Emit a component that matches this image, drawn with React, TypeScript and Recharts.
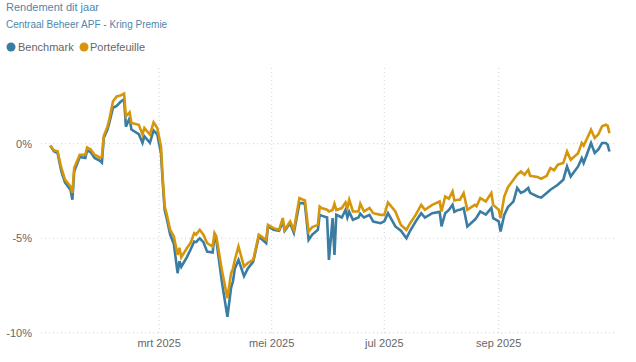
import React from 'react';
import { LineChart, Line, XAxis, YAxis, CartesianGrid } from 'recharts';

const dates = [
  '2025-01-01','2025-01-03','2025-01-05','2025-01-07','2025-01-09','2025-01-12','2025-01-13','2025-01-14','2025-01-17','2025-01-20',
  '2025-01-21','2025-01-23','2025-01-25','2025-01-28','2025-01-29','2025-01-30','2025-02-01','2025-02-02','2025-02-04','2025-02-06',
  '2025-02-08','2025-02-10','2025-02-11','2025-02-13','2025-02-14','2025-02-18','2025-02-20','2025-02-21','2025-02-24','2025-02-26',
  '2025-02-28','2025-03-02','2025-03-03','2025-03-04','2025-03-05','2025-03-07','2025-03-09','2025-03-11','2025-03-12','2025-03-13',
  '2025-03-16','2025-03-18','2025-03-20','2025-03-21','2025-03-23','2025-03-25','2025-03-27','2025-03-30','2025-03-31','2025-04-01',
  '2025-04-04','2025-04-07','2025-04-09','2025-04-10','2025-04-11','2025-04-13','2025-04-16','2025-04-18','2025-04-21','2025-04-24',
  '2025-04-28','2025-04-29','2025-05-02','2025-05-05','2025-05-07','2025-05-08','2025-05-11','2025-05-13','2025-05-16','2025-05-18',
  '2025-05-19','2025-05-21','2025-05-23','2025-05-26','2025-05-27','2025-05-28','2025-05-31','2025-06-01','2025-06-03','2025-06-04',
  '2025-06-05','2025-06-08','2025-06-10','2025-06-11','2025-06-12','2025-06-14','2025-06-17','2025-06-18','2025-06-20','2025-06-23',
  '2025-06-25','2025-06-29','2025-07-01','2025-07-03','2025-07-07','2025-07-10','2025-07-13','2025-07-15','2025-07-18','2025-07-21',
  '2025-07-23','2025-07-27','2025-07-31','2025-08-01','2025-08-03','2025-08-05','2025-08-07','2025-08-08','2025-08-10','2025-08-11',
  '2025-08-13','2025-08-15','2025-08-19','2025-08-20','2025-08-22','2025-08-25','2025-08-28','2025-08-29','2025-09-01','2025-09-02',
  '2025-09-04','2025-09-06','2025-09-09','2025-09-11','2025-09-13','2025-09-15','2025-09-17','2025-09-18','2025-09-22','2025-09-24',
  '2025-09-27','2025-09-29','2025-10-01','2025-10-03','2025-10-06','2025-10-08','2025-10-10','2025-10-14','2025-10-16','2025-10-17',
  '2025-10-19','2025-10-21','2025-10-23','2025-10-25','2025-10-27','2025-10-29','2025-10-30','2025-10-31',
];

const portefeuille = [
  -0.1, -0.35, -0.4, -1.27, -1.9, -2.26, -2.6, -1.27, -0.58, -0.58,
  -0.2, -0.3, -0.58, -0.74, -0.7, 0.4, 0.9, 1.27, 2.24, 2.5,
  2.54, 2.65, 1.45, 1.66, 1.1, 1.0, 0.48, 0.83, 0.48, 1.13,
  0.83, -0.14, -1.9, -3.3, -3.67, -4.55, -4.9, -5.87, -5.5, -6.0,
  -5.52, -5.25, -4.72, -4.8, -4.55, -4.81, -5.25, -5.43, -4.72, -4.9,
  -6.67, -8.16, -6.84, -6.6, -6.14, -5.43, -6.49, -6.3, -6.14, -4.81,
  -5.08, -4.29, -4.46, -4.55, -3.93, -4.55, -4.11, -4.55, -2.87, -2.96,
  -3.0, -4.64, -4.4, -4.29, -3.32, -3.4, -3.49, -3.58, -3.5, -3.17,
  -3.5, -3.4, -3.1, -3.4, -2.96, -3.58, -3.58, -3.17, -3.58, -3.4,
  -3.67, -3.76, -3.76, -3.1, -3.58, -4.29, -4.55, -4.2, -3.76, -3.23,
  -3.49, -3.23, -3.05, -3.58, -2.79, -2.9, -2.52, -3.0, -2.96, -2.96,
  -2.61, -3.49, -3.23, -3.3, -2.87, -3.05, -2.61, -3.23, -3.49, -3.93,
  -2.79, -2.3, -1.9, -1.64, -1.47, -1.64, -1.38, -1.7, -1.76, -1.85,
  -1.7, -1.29, -1.4, -1.11, -1.02, -0.41, -0.85, -0.5, 0.04, -0.1,
  0.3, 0.74, 0.3, 0.5, 0.92, 1.0, 0.95, 0.56,
];

const benchmark = [
  -0.1, -0.4, -0.5, -1.45, -2.05, -2.45, -2.96, -1.45, -0.7, -0.75,
  -0.35, -0.45, -0.75, -0.9, -1.0, 0.3, 0.75, 1.1, 1.9, 2.0,
  2.2, 2.35, 0.9, 1.35, 0.75, 0.5, 0.05, 0.4, 0.05, 0.7,
  0.5, -0.5, -2.1, -3.5, -3.9, -4.8, -5.3, -6.84, -6.2, -6.5,
  -6.0, -5.6, -5.17, -5.2, -5.0, -5.2, -5.7, -5.75, -4.9, -5.1,
  -7.3, -9.14, -7.6, -7.28, -6.6, -6.14, -7.0, -6.6, -6.23, -4.9,
  -5.25, -4.37, -4.55, -4.6, -4.11, -4.6, -4.2, -4.7, -3.14, -3.14,
  -3.2, -5.08, -4.8, -4.55, -3.76, -3.8, -3.9, -6.14, -3.93, -5.87,
  -3.76, -3.9, -3.49, -3.9, -3.6, -4.02, -3.9, -3.7, -3.9, -3.76,
  -4.11, -4.2, -4.1, -3.67, -4.37, -4.6, -5.0, -4.6, -4.11, -3.67,
  -3.9, -3.67, -3.6, -4.37, -3.67, -3.5, -3.23, -3.6, -3.5, -3.49,
  -3.4, -4.37, -4.02, -3.9, -3.58, -3.75, -3.4, -3.93, -4.1, -4.64,
  -3.76, -3.35, -3.05, -2.34, -2.6, -2.5, -2.34, -2.6, -2.79, -2.85,
  -2.6, -2.43, -2.3, -2.17, -1.9, -1.2, -1.73, -1.2, -0.76, -1.02,
  -0.5, 0.04, -0.49, -0.3, 0.04, 0.04, -0.05, -0.41,
];

const xTickDates = ['2025-03-01', '2025-05-01', '2025-07-01', '2025-09-01'];
const xTickLabels = ['mrt 2025', 'mei 2025', 'jul 2025', 'sep 2025'];
const xDomainDates = ['2024-12-27', '2025-11-03'];
const yTicks = [-10, -5, 0];
const yDomain = [-10, 4];

const title = 'Rendement dit jaar';
const subtitle = 'Centraal Beheer APF - Kring Premie';
const seriesNames = ['Benchmark', 'Portefeuille'];
const BLUE = '#3b7ca3';
const GOLD = '#d5960c';

const toTs = (s: string) => Date.parse(s + 'T00:00:00Z');

const data = dates.map((d, i) => ({
  t: toTs(d),
  benchmark: benchmark[i],
  portefeuille: portefeuille[i],
}));

const tickTs = xTickDates.map(toTs);
const labelFor = (v: number) => {
  const i = tickTs.indexOf(v);
  return i >= 0 ? xTickLabels[i] : '';
};

const FONT = '"Liberation Sans", Arial, sans-serif';

export default function App() {
  return (
    <div style={{ position: 'absolute', left: 0, top: 0, width: 636, height: 362, fontFamily: FONT, background: '#fff' }}>
      <LineChart
        width={636}
        height={362}
        data={data}
        margin={{ top: 68, right: 21, bottom: 0, left: 0 }}
      >
        <CartesianGrid
          stroke="#d0d0d0"
          strokeDasharray="1 3"
          horizontalValues={yTicks}
          verticalValues={tickTs}
        />
        <XAxis
          dataKey="t"
          type="number"
          scale="linear"
          domain={[toTs(xDomainDates[0]), toTs(xDomainDates[1])]}
          ticks={tickTs}
          tickFormatter={labelFor}
          axisLine={false}
          tickLine={false}
          tickSize={0}
          tickMargin={6}
          height={29}
          interval={0}
          tick={{ fontSize: 11, fill: '#666', fontFamily: FONT }}
        />
        <YAxis
          type="number"
          domain={yDomain}
          ticks={yTicks}
          tickFormatter={(v: number) => `${v}%`}
          axisLine={false}
          tickLine={false}
          tickSize={0}
          tickMargin={9}
          width={41}
          interval={0}
          tick={{ fontSize: 11, fill: '#666', fontFamily: FONT }}
        />
        <Line
          type="linear"
          dataKey="benchmark"
          stroke={BLUE}
          strokeWidth={2.6}
          dot={false}
          activeDot={false}
          isAnimationActive={false}
        />
        <Line
          type="linear"
          dataKey="portefeuille"
          stroke={GOLD}
          strokeWidth={2.6}
          dot={false}
          activeDot={false}
          isAnimationActive={false}
        />
      </LineChart>
      <svg width={636} height={60} style={{ position: 'absolute', left: 0, top: 0 }}>
        <text x={6} y={10.5} fontSize={11} fill="#4f86ad" fontFamily={FONT}>{title}</text>
        <text x={6} y={28.3} fontSize={10} fill="#4f86ad" fontFamily={FONT}>{subtitle}</text>
        <circle cx={11} cy={47} r={4.5} fill={BLUE} />
        <text x={18} y={51} fontSize={11} fill="#666" fontFamily={FONT}>{seriesNames[0]}</text>
        <circle cx={84} cy={47} r={4.5} fill={GOLD} />
        <text x={90} y={51} fontSize={11} fill="#666" fontFamily={FONT}>{seriesNames[1]}</text>
      </svg>
    </div>
  );
}
